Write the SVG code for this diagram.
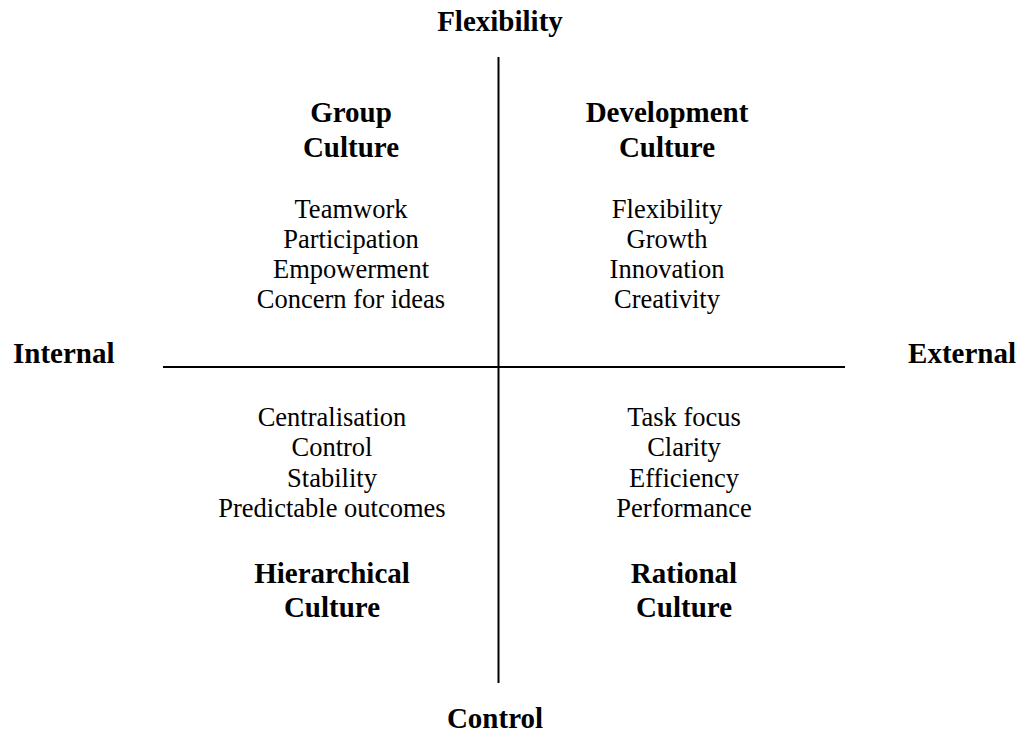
<svg xmlns="http://www.w3.org/2000/svg" width="1020" height="736" viewBox="0 0 1020 736">
  <style>
    .axis { stroke: #000; stroke-width: 2; fill: none; }
    .head { font-family: "Liberation Serif", "Times New Roman", serif; font-weight: bold; font-size: 29px; fill: #000; text-anchor: middle; }
    .item { font-family: "Liberation Serif", "Times New Roman", serif; font-size: 26.5px; fill: #000; text-anchor: middle; }
  </style>
  <rect width="1020" height="736" fill="#fff"/>

  <!-- quadrant axes -->
  <g id="connectors">
    <line class="axis" x1="498.5" y1="57" x2="498.5" y2="683"/>
    <line class="axis" x1="163" y1="367" x2="845" y2="367"/>
  </g>

  <!-- axis labels -->
  <g id="axis-flexibility"><text class="head" x="500" y="31" font-size="31">Flexibility</text></g>
  <g id="axis-control"><text class="head" x="495" y="728">Control</text></g>
  <g id="axis-internal"><text class="head" x="13" y="363" style="text-anchor:start">Internal</text></g>
  <g id="axis-external"><text class="head" x="1016" y="363" style="text-anchor:end">External</text></g>

  <!-- upper left quadrant -->
  <g id="group-culture">
    <text class="head" x="351" y="122">Group</text>
    <text class="head" x="351" y="157">Culture</text>
    <text class="item" x="351" y="218">Teamwork</text>
    <text class="item" x="351" y="248">Participation</text>
    <text class="item" x="351" y="278">Empowerment</text>
    <text class="item" x="351" y="308">Concern for ideas</text>
  </g>

  <!-- upper right quadrant -->
  <g id="development-culture">
    <text class="head" x="667" y="122">Development</text>
    <text class="head" x="667" y="157">Culture</text>
    <text class="item" x="667" y="218">Flexibility</text>
    <text class="item" x="667" y="248">Growth</text>
    <text class="item" x="667" y="278">Innovation</text>
    <text class="item" x="667" y="308">Creativity</text>
  </g>

  <!-- lower left quadrant -->
  <g id="hierarchical-culture">
    <text class="item" x="332" y="426">Centralisation</text>
    <text class="item" x="332" y="456">Control</text>
    <text class="item" x="332" y="487">Stability</text>
    <text class="item" x="332" y="517">Predictable outcomes</text>
    <text class="head" x="332" y="583">Hierarchical</text>
    <text class="head" x="332" y="617">Culture</text>
  </g>

  <!-- lower right quadrant -->
  <g id="rational-culture">
    <text class="item" x="684" y="426">Task focus</text>
    <text class="item" x="684" y="456">Clarity</text>
    <text class="item" x="684" y="487">Efficiency</text>
    <text class="item" x="684" y="517">Performance</text>
    <text class="head" x="684" y="583">Rational</text>
    <text class="head" x="684" y="617">Culture</text>
  </g>
</svg>
